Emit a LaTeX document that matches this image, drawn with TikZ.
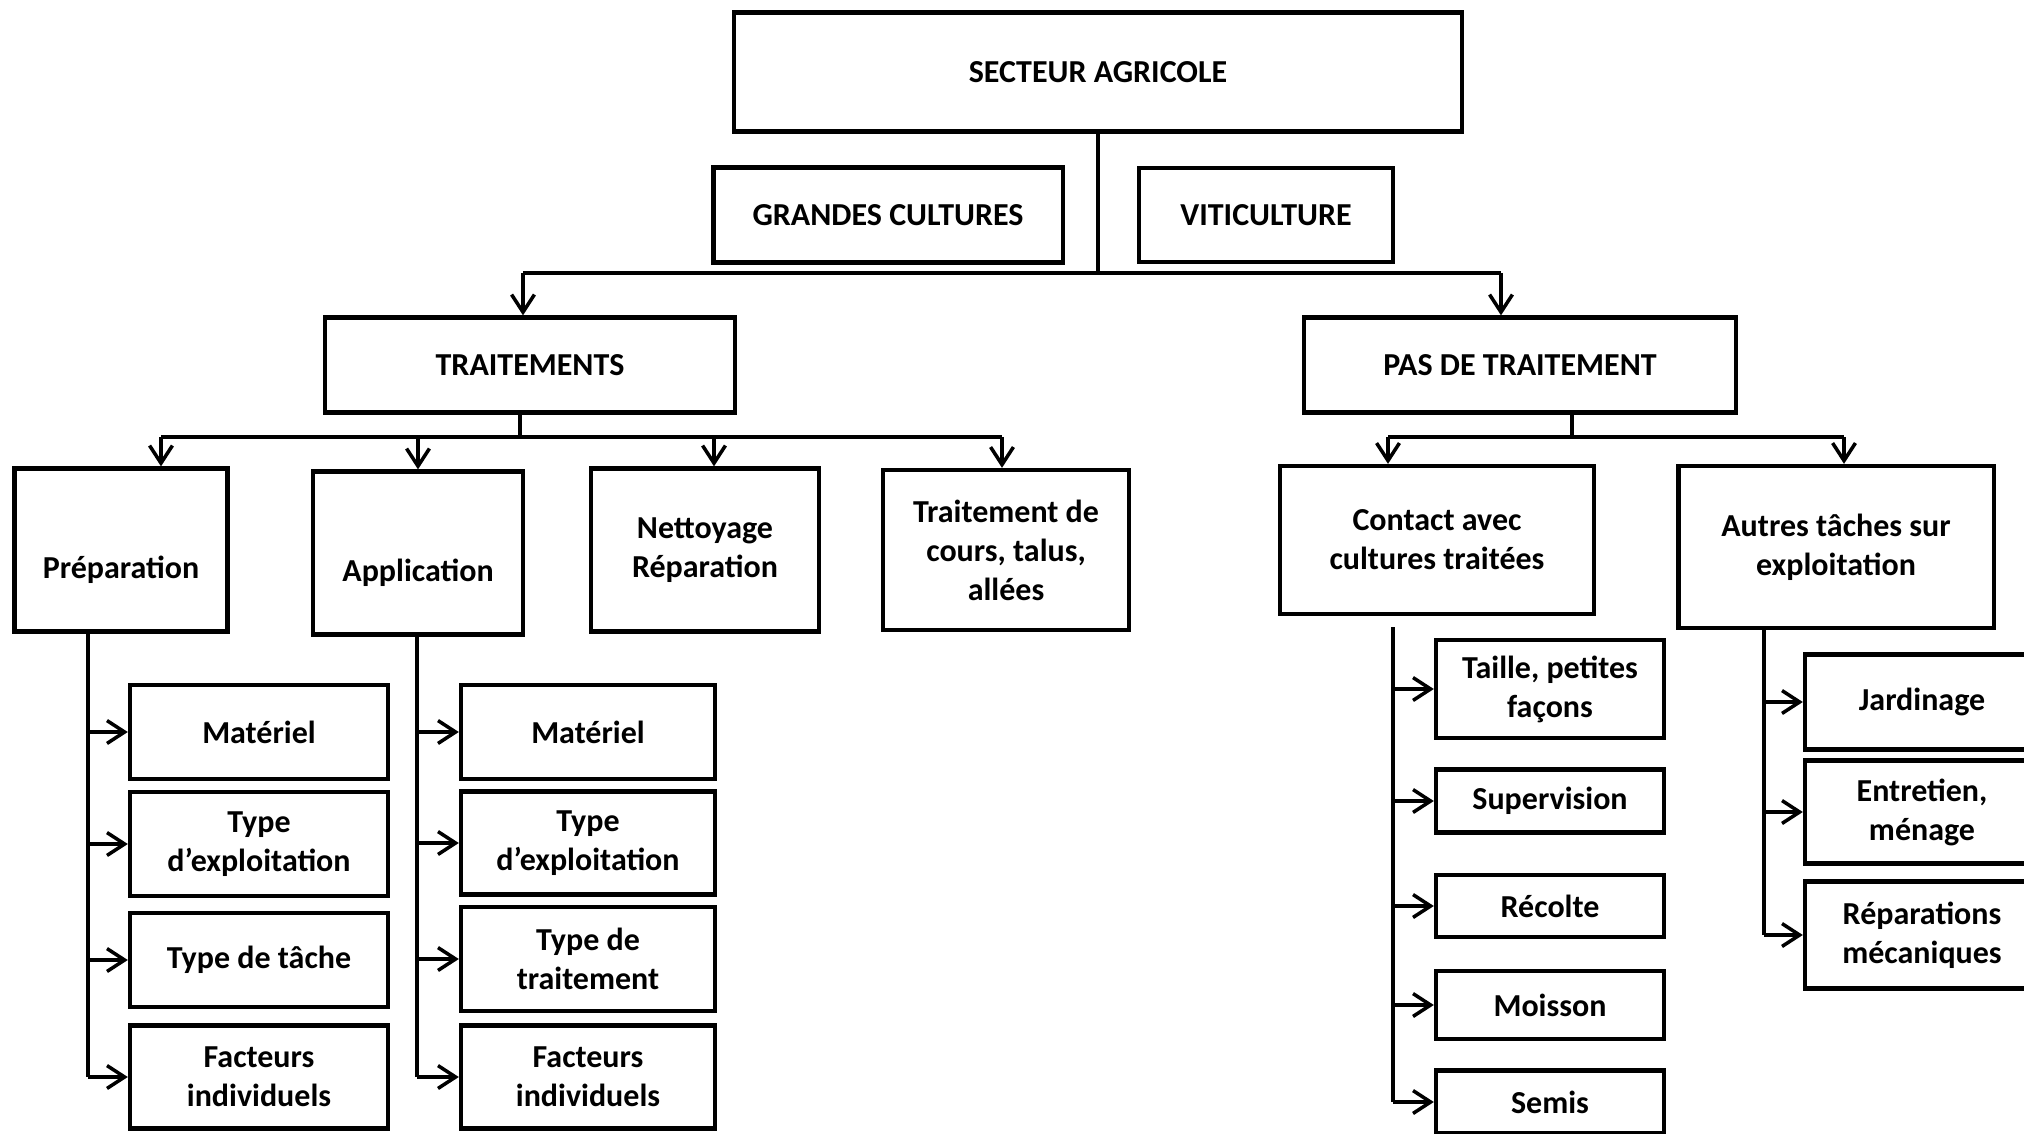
\documentclass[tikz,border=0pt]{standalone}
\usepackage{fontspec}
\setmainfont{Carlito}
\usetikzlibrary{arrows.meta}

\tikzset{
  box/.style={draw, line width=1.2pt, align=center, inner sep=1pt,
    font=\bfseries\fontsize{9.1}{11.1}\selectfont},
  low/.style={text height=0.63cm, text depth=0.07cm},
  leafA/.style={box, minimum width=2.58cm},
  leafB/.style={box, minimum width=2.54cm},
  leafC/.style={box, minimum width=2.28cm},
  leafD/.style={box, minimum width=2.34cm},
  link/.style={line width=1pt},
  arr/.style={link, -{Straight Barb[length=5pt,width=6.5pt]}},
}

\begin{document}
\begin{tikzpicture}[x=0.01cm, y=-0.01cm]
  \clip (0,0) rectangle (2024,1133);

  % top
  \node[box, minimum width=7.28cm, minimum height=1.19cm] (sect) at (1098,72) {SECTEUR AGRICOLE};
  \node[box, minimum width=3.49cm, minimum height=0.95cm] (gc) at (888,215) {GRANDES CULTURES};
  \node[box, minimum width=2.54cm, minimum height=0.94cm] (viti) at (1266,215) {VITICULTURE};

  \node[box, minimum width=4.1cm, minimum height=0.95cm] (trt) at (530,365) {TRAITEMENTS};
  \node[box, minimum width=4.32cm, minimum height=0.95cm] (pas) at (1520,365) {PAS DE TRAITEMENT};

  % second level
  \node[box, low, minimum width=2.13cm, minimum height=1.63cm] (prep) at (121,550) {Préparation};
  \node[box, low, minimum width=2.1cm, minimum height=1.63cm] (appl) at (418,553) {Application};
  \node[box, minimum width=2.28cm, minimum height=1.63cm] (nett) at (705,550) {Nettoyage\\Réparation};
  \node[box, minimum width=2.46cm, minimum height=1.6cm] (cours) at (1006,550) {Traitement de\\cours, talus,\\allées};
  \node[box, minimum width=3.14cm, minimum height=1.48cm] (contact) at (1437,540) {Contact avec\\cultures traitées};
  \node[box, minimum width=3.15cm, minimum height=1.62cm] (autres) at (1836,547) {Autres tâches sur\\exploitation};

  % leaves
  \node[leafA, minimum height=0.94cm] (mat1) at (259,732) {Matériel};
  \node[leafA, minimum height=1.04cm] (typ1) at (259,844) {Type\\d’exploitation};
  \node[leafA, minimum height=0.94cm] (tache) at (259,960) {Type de tâche};
  \node[leafA, minimum height=1.03cm] (fact1) at (259,1077) {Facteurs\\individuels};

  \node[leafB, minimum height=0.94cm] (mat2) at (588,732) {Matériel};
  \node[leafB, minimum height=1.03cm] (typ2) at (588,843) {Type\\d’exploitation};
  \node[leafB, minimum height=1.04cm] (ttrait) at (588,959) {Type de\\traitement};
  \node[leafB, minimum height=1.03cm] (fact2) at (588,1077) {Facteurs\\individuels};

  \node[leafC, minimum height=0.98cm] (taille) at (1550,689) {Taille, petites\\façons};
  \node[leafC, minimum height=0.63cm] (superv) at (1550,801) {Supervision};
  \node[leafC, minimum height=0.62cm] (recolte) at (1550,906) {Récolte};
  \node[leafC, minimum height=0.68cm] (moisson) at (1550,1005) {Moisson};
  \node[leafC, minimum height=0.63cm] (semis) at (1550,1102) {Semis};

  \node[leafD, minimum height=0.95cm] (jard) at (1922,702) {Jardinage};
  \node[leafD, minimum height=1.03cm] (entr) at (1922,812) {Entretien,\\ménage};
  \node[leafD, minimum height=1.07cm] (repar) at (1922,935) {Réparations\\mécaniques};

  % connectors
  \draw[link] (sect.south) -- (1098,273);
  \draw[link] (523,273) -- (1501,273);
  \draw[arr] (523,273) -- (523,0 |- trt.north);
  \draw[arr] (1501,273) -- (1501,0 |- pas.north);

  \draw[link] (520,0 |- trt.south) -- (520,437);
  \draw[link] (161,437) -- (1002,437);
  \foreach \x/\n in {161/prep,418/appl,714/nett,1002/cours}
    \draw[arr] (\x,437) -- (\x,0 |- \n.north);

  \draw[link] (1572,0 |- pas.south) -- (1572,437);
  \draw[link] (1388,437) -- (1844,437);
  \foreach \x/\n in {1388/contact,1844/autres}
    \draw[arr] (\x,437) -- (\x,0 |- \n.north);

  \draw[link] (88,0 |- prep.south) -- (88,0 |- fact1.west);
  \foreach \n in {mat1,typ1,tache,fact1}
    \draw[arr] (88,0 |- \n.west) -- (\n.west);

  \draw[link] (417,0 |- appl.south) -- (417,0 |- fact2.west);
  \foreach \n in {mat2,typ2,ttrait,fact2}
    \draw[arr] (417,0 |- \n.west) -- (\n.west);

  \draw[link] (1393,627) -- (1393,0 |- semis.west);
  \foreach \n in {taille,superv,recolte,moisson,semis}
    \draw[arr] (1393,0 |- \n.west) -- (\n.west);

  \draw[link] (1764,0 |- autres.south) -- (1764,0 |- repar.west);
  \foreach \n in {jard,entr,repar}
    \draw[arr] (1764,0 |- \n.west) -- (\n.west);
\end{tikzpicture}
\end{document}
